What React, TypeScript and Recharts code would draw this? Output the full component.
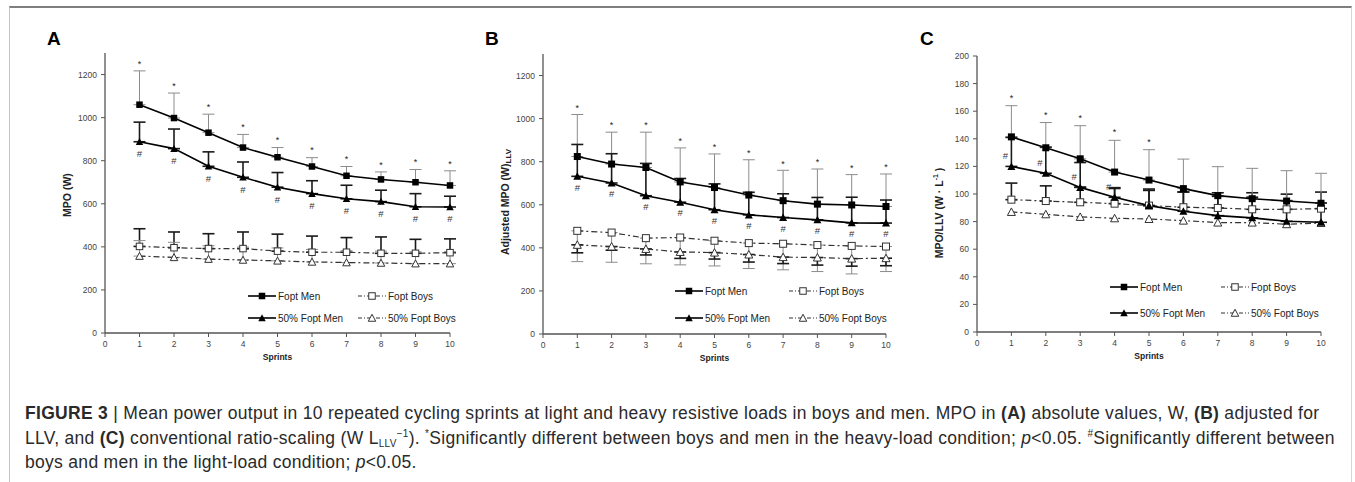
import React from "react";
import { ComposedChart, Line, XAxis, YAxis, ErrorBar, LabelList, Legend } from "recharts";

const FONT = "'Liberation Sans', Arial, Helvetica, sans-serif";

const SPRINTS = [1, 2, 3, 4, 5, 6, 7, 8, 9, 10];
const X_TICKS = [0, 1, 2, 3, 4, 5, 6, 7, 8, 9, 10];
const MPO_TICKS = [0, 200, 400, 600, 800, 1000, 1200];
const RATIO_TICKS = [0, 20, 40, 60, 80, 100, 120, 140, 160, 180, 200];

const NAMES = ["Fopt Men", "Fopt Boys", "50% Fopt Men", "50% Fopt Boys"];

// (A) absolute MPO, W
const A_FOPT_MEN = [1060, 998, 930, 861, 816, 773, 730, 713, 700, 685];
const A_FOPT_MEN_SD = [157, 116, 86, 61, 45, 41, 43, 35, 59, 68];
const A_HALF_MEN = [888, 856, 774, 723, 677, 647, 623, 610, 586, 585];
const A_HALF_MEN_SD = [91, 91, 67, 71, 68, 60, 63, 53, 61, 50];
const A_FOPT_BOYS = [402, 396, 392, 392, 380, 375, 375, 370, 370, 373];
const A_FOPT_BOYS_SD = [82, 73, 69, 77, 79, 75, 68, 76, 65, 64];
const A_HALF_BOYS = [357, 351, 343, 339, 335, 330, 327, 325, 322, 322];
const A_HALF_BOYS_SD = [72, 70, 62, 60, 60, 58, 55, 55, 55, 55];

// (B) adjusted MPO (W)LLV
const B_FOPT_MEN = [824, 789, 773, 706, 680, 645, 619, 603, 599, 592];
const B_FOPT_MEN_SD = [195, 148, 164, 158, 156, 164, 141, 163, 141, 151];
const B_HALF_MEN = [732, 701, 642, 612, 577, 553, 541, 530, 516, 515];
const B_HALF_MEN_SD = [148, 136, 150, 110, 120, 105, 110, 104, 119, 107];
const B_FOPT_BOYS = [479, 471, 445, 448, 433, 422, 419, 413, 409, 406];
const B_FOPT_BOYS_SD = [143, 138, 119, 127, 117, 118, 121, 123, 130, 116];
const B_HALF_BOYS = [414, 406, 395, 381, 378, 369, 357, 355, 350, 352];
const B_HALF_BOYS_SD = [37, 17, 28, 30, 30, 35, 30, 35, 35, 35];

// (C) MPO/LLV, W·L-1
const C_FOPT_MEN = [141.4, 133.5, 125.5, 115.9, 110.1, 103.9, 98.8, 96.6, 94.9, 93.3];
const C_FOPT_MEN_SD = [22.6, 18.3, 24, 23, 22, 21.4, 21, 22, 22, 21.7];
const C_HALF_MEN = [120, 115, 104.8, 97.6, 91.6, 87.5, 84.3, 82.7, 80.2, 79.5];
const C_HALF_MEN_SD = [21, 19, 18, 7, 12, 14, 14, 15, 15, 14];
const C_FOPT_BOYS = [95.9, 94.9, 94, 93, 91.6, 90.4, 89.9, 88.9, 88.9, 89.4];
const C_FOPT_BOYS_SD = [12, 11, 11, 11, 11, 11, 11, 12, 11, 12];
const C_HALF_BOYS = [87, 85.3, 83.4, 82.4, 81.9, 80.7, 79.3, 79.3, 78.1, 79];

// sprints flagged * (heavy load) and # (light load)
const A_STARS = [1, 2, 3, 4, 5, 6, 7, 8, 9, 10];
const A_HASHES = [1, 2, 3, 4, 5, 6, 7, 8, 9, 10];
const B_STARS = [1, 2, 3, 4, 5, 6, 7, 8, 9, 10];
const B_HASHES = [1, 2, 3, 4, 5, 6, 7, 8, 9, 10];
const C_STARS = [1, 2, 3, 4, 5];
const C_HASHES = [1, 2, 3, 4];

type Rows = Record<string, any>[];

function buildRows(p: {
    fm: number[]; fmSd: number[]; hm: number[]; hmSd: number[];
    fb: number[]; fbSd: number[]; hb: number[]; hbSd?: number[];
    boysDown: boolean; stars: number[]; hashes: number[]; starGap: number; hashGap: number;
}): Rows {
    return SPRINTS.map((s, i) => ({
        sprint: s,
        fm: p.fm[i], fmErr: [0, p.fmSd[i]],
        hm: p.hm[i], hmErr: [0, p.hmSd[i]],
        fb: p.fb[i], fbErr: p.boysDown ? [p.fbSd[i], 0] : [0, p.fbSd[i]],
        hb: p.hb[i], hbErr: p.hbSd ? (p.boysDown ? [p.hbSd[i], 0] : [0, p.hbSd[i]]) : [0, 0],
        star: p.stars.includes(s) ? p.fm[i] + p.fmSd[i] + p.starGap : null,
        hash: p.hashes.includes(s) ? p.hm[i] + p.hashGap : null,
    }));
}

const ROWS_A = buildRows({
    fm: A_FOPT_MEN, fmSd: A_FOPT_MEN_SD, hm: A_HALF_MEN, hmSd: A_HALF_MEN_SD,
    fb: A_FOPT_BOYS, fbSd: A_FOPT_BOYS_SD, hb: A_HALF_BOYS, hbSd: A_HALF_BOYS_SD,
    boysDown: false, stars: A_STARS, hashes: A_HASHES, starGap: 38, hashGap: -55,
});
const ROWS_B = buildRows({
    fm: B_FOPT_MEN, fmSd: B_FOPT_MEN_SD, hm: B_HALF_MEN, hmSd: B_HALF_MEN_SD,
    fb: B_FOPT_BOYS, fbSd: B_FOPT_BOYS_SD, hb: B_HALF_BOYS, hbSd: B_HALF_BOYS_SD,
    boysDown: true, stars: B_STARS, hashes: B_HASHES, starGap: 36, hashGap: -50,
});
const ROWS_C = buildRows({
    fm: C_FOPT_MEN, fmSd: C_FOPT_MEN_SD, hm: C_HALF_MEN, hmSd: C_HALF_MEN_SD,
    fb: C_FOPT_BOYS, fbSd: C_FOPT_BOYS_SD, hb: C_HALF_BOYS,
    boysDown: false, stars: C_STARS, hashes: C_HASHES, starGap: 6.5, hashGap: 8,
});

const GRAY_BAR = "#8c8c8c";
const BLACK_BAR = "#1a1a1a";

function markerShape(kind: string, size: number, cx: number, cy: number, key?: any) {
    const h = size / 2;
    if (kind === "fsq") return <rect key={key} x={cx - h} y={cy - h} width={size} height={size} fill="#000" />;
    if (kind === "osq") return <rect key={key} x={cx - h} y={cy - h} width={size} height={size} fill="#fff" stroke="#333" strokeWidth={1} />;
    const pts = `${cx},${cy - h - 0.5} ${cx - h - 0.5},${cy + h} ${cx + h + 0.5},${cy + h}`;
    if (kind === "ftri") return <polygon key={key} points={pts} fill="#000" />;
    return <polygon key={key} points={pts} fill="#fff" stroke="#333" strokeWidth={1} />;
}

const dotFn = (kind: string, size: number) => (props: any) => {
    const { cx, cy, index } = props;
    if (cx == null || cy == null || Number.isNaN(cy)) return <g key={index} />;
    return markerShape(kind, size, cx, cy, index);
};

const LEGEND_STYLE: Record<string, { col: number; row: number; kind: string; dashed: boolean }> = {
    "Fopt Men": { col: 0, row: 0, kind: "fsq", dashed: false },
    "Fopt Boys": { col: 1, row: 0, kind: "osq", dashed: true },
    "50% Fopt Men": { col: 0, row: 1, kind: "ftri", dashed: false },
    "50% Fopt Boys": { col: 1, row: 1, kind: "otri", dashed: true },
};

const makeLegend = (colGap: number, rowGap: number) => (props: any) => (
    <div style={{ position: "relative", fontFamily: FONT, fontSize: 10, color: "#222" }}>
        {(props.payload || []).map((item: any) => {
            const st = LEGEND_STYLE[item.value];
            if (!st) return null;
            return (
                <div key={item.value} style={{
                    position: "absolute", left: st.col * colGap, top: st.row * rowGap,
                    display: "flex", alignItems: "center", whiteSpace: "nowrap", height: 12,
                }}>
                    <svg width={28} height={10} style={{ marginRight: 2 }}>
                        <line x1={0} y1={5} x2={28} y2={5}
                            stroke={st.dashed ? "#333" : "#000"} strokeWidth={st.dashed ? 1.2 : 1.6}
                            strokeDasharray={st.dashed ? "4 2 1 2" : undefined} />
                        {markerShape(st.kind, 6.5, 14, 5)}
                    </svg>
                    <span>{item.value}</span>
                </div>
            );
        })}
    </div>
);

const starLabel = (props: any) => {
    const { x, y, value, index } = props;
    if (value == null || x == null || y == null) return null;
    return <text key={index} x={x} y={y + 4} textAnchor="middle" fontSize={9} fontFamily={FONT} style={{ fill: "#222" }}>*</text>;
};

const hashLabel = (dx: number) => (props: any) => {
    const { x, y, value, index } = props;
    if (value == null || x == null || y == null) return null;
    return <text key={index} x={x + dx} y={y + 3.5} textAnchor="middle" fontSize={9.5} fontFamily={FONT} style={{ fill: "#333" }}>#</text>;
};

interface PanelProps {
    rows: Rows;
    left: number; top: number; width: number; height: number;
    margin: { top: number; right: number; bottom: number; left: number };
    yMax: number; yTicks: number[];
    yLabel: React.ReactNode; yLabelX: number; yLabelY: number;
    legendLeft: number; legendTop: number; colGap: number; rowGap: number;
    markerSize: number; hashDx: number;
    fbBar: { stroke: string; w: number }; hbBar?: { stroke: string; w: number };
}

function Panel(p: PanelProps) {
    const tick = { fontSize: 8.5, fill: "#444", fontFamily: FONT };
    return (
        <div style={{ position: "absolute", left: p.left, top: p.top }}>
            <ComposedChart width={p.width} height={p.height} data={p.rows} margin={p.margin}>
                <XAxis type="number" dataKey="sprint" domain={[0, 10]} ticks={X_TICKS} interval={0}
                    height={30} tick={tick} tickSize={4} tickMargin={4}
                    axisLine={{ stroke: "#555", strokeWidth: 1.3 }} tickLine={{ stroke: "#555" }}
                    label={{
                        content: (lp: any) => {
                            const vb = lp.viewBox || {};
                            return (
                                <text x={vb.x + vb.width / 2} y={vb.y + 24} textAnchor="middle" dominantBaseline="central"
                                    fontSize={8.5} fontWeight={700} fontFamily={FONT} fill="#222">Sprints</text>
                            );
                        },
                    }} />
                <YAxis type="number" domain={[0, p.yMax]} ticks={p.yTicks} interval={0} width={65}
                    tick={tick} tickSize={4} tickMargin={4}
                    axisLine={{ stroke: "#555", strokeWidth: 1.3 }} tickLine={{ stroke: "#555" }}
                    label={{
                        content: () => (
                            <text transform={`translate(${p.yLabelX},${p.yLabelY}) rotate(-90)`} textAnchor="middle"
                                dominantBaseline="central" fontSize={10.5} fontWeight={700} fontFamily={FONT} fill="#222">
                                {p.yLabel}
                            </text>
                        ),
                    }} />
                <Legend layout="horizontal" verticalAlign="middle" align="center"
                    wrapperStyle={{ left: p.legendLeft, top: p.legendTop, width: 240, height: 50 }}
                    content={makeLegend(p.colGap, p.rowGap)} />

                <Line name={NAMES[1]} dataKey="fb" stroke="#333" strokeWidth={1.2} strokeDasharray="6 3 2 3"
                    dot={dotFn("osq", p.markerSize)} activeDot={false} isAnimationActive={false}>
                    <ErrorBar dataKey="fbErr" width={6} stroke={p.fbBar.stroke} strokeWidth={p.fbBar.w} direction="y" isAnimationActive={false} />
                </Line>
                <Line name={NAMES[3]} dataKey="hb" stroke="#333" strokeWidth={1.2} strokeDasharray="6 3 2 3"
                    dot={dotFn("otri", p.markerSize)} activeDot={false} isAnimationActive={false}>
                    {p.hbBar && <ErrorBar dataKey="hbErr" width={6} stroke={p.hbBar.stroke} strokeWidth={p.hbBar.w} direction="y" isAnimationActive={false} />}
                </Line>
                <Line name={NAMES[0]} dataKey="fm" stroke="#000" strokeWidth={1.6}
                    dot={dotFn("fsq", p.markerSize)} activeDot={false} isAnimationActive={false}>
                    <ErrorBar dataKey="fmErr" width={6} stroke={GRAY_BAR} strokeWidth={1} direction="y" isAnimationActive={false} />
                </Line>
                <Line name={NAMES[2]} dataKey="hm" stroke="#000" strokeWidth={1.6}
                    dot={dotFn("ftri", p.markerSize)} activeDot={false} isAnimationActive={false}>
                    <ErrorBar dataKey="hmErr" width={6} stroke={BLACK_BAR} strokeWidth={1.6} direction="y" isAnimationActive={false} />
                </Line>

                <Line dataKey="star" stroke="none" dot={false} activeDot={false} legendType="none" isAnimationActive={false}>
                    <LabelList dataKey="star" content={starLabel} />
                </Line>
                <Line dataKey="hash" stroke="none" dot={false} activeDot={false} legendType="none" isAnimationActive={false}>
                    <LabelList dataKey="hash" content={hashLabel(p.hashDx)} />
                </Line>
            </ComposedChart>
        </div>
    );
}

const letterStyle = (left: number): React.CSSProperties => ({
    position: "absolute", left, top: 29, fontFamily: FONT, fontWeight: 700, fontSize: 19, lineHeight: "19px", color: "#000",
});

const subStyle: React.CSSProperties = { fontSize: 10, lineHeight: 0, verticalAlign: "-3px" };
const supStyle: React.CSSProperties = { fontSize: 10, lineHeight: 0, verticalAlign: "7px" };

export default function App() {
    return (
        <div style={{ position: "absolute", left: 0, top: 0, width: 1355, height: 482, background: "#fff", overflow: "hidden" }}>
            <div style={{
                position: "absolute", left: 9, top: 6, width: 1341, height: 490,
                borderTop: "2px solid #7f7f7f", borderLeft: "1px solid #c4c4c4", borderRight: "1px solid #d6d6d6",
            }} />

            <div style={letterStyle(47)}>A</div>
            <div style={letterStyle(485)}>B</div>
            <div style={letterStyle(920)}>C</div>

            <Panel rows={ROWS_A} left={20} top={40} width={440} height={323}
                margin={{ top: 13, right: 10, bottom: 0, left: 20 }}
                yMax={1300} yTicks={MPO_TICKS}
                yLabel="MPO (W)" yLabelX={47} yLabelY={155}
                legendLeft={228} legendTop={250} colGap={110} rowGap={22}
                markerSize={6.5} hashDx={0}
                fbBar={{ stroke: BLACK_BAR, w: 1.6 }} hbBar={{ stroke: GRAY_BAR, w: 1 }} />

            <Panel rows={ROWS_B} left={460} top={40} width={440} height={324}
                margin={{ top: 14, right: 14, bottom: 0, left: 18 }}
                yMax={1300} yTicks={MPO_TICKS}
                yLabel={<>Adjusted MPO (W)<tspan fontSize={8} dy={3}>LLV</tspan></>} yLabelX={45} yLabelY={162}
                legendLeft={215} legendTop={245} colGap={114} rowGap={27}
                markerSize={7} hashDx={0}
                fbBar={{ stroke: GRAY_BAR, w: 1 }} hbBar={{ stroke: BLACK_BAR, w: 1.6 }} />

            <Panel rows={ROWS_C} left={900} top={40} width={440} height={322}
                margin={{ top: 16, right: 19, bottom: 0, left: 12 }}
                yMax={200} yTicks={RATIO_TICKS}
                yLabel={<>MPO/LLV (W · L<tspan fontSize={7} dy={-4}>-1</tspan><tspan dy={4}> )</tspan></>} yLabelX={39} yLabelY={173}
                legendLeft={210} legendTop={241} colGap={111} rowGap={26}
                markerSize={7} hashDx={-6}
                fbBar={{ stroke: BLACK_BAR, w: 1.6 }} />

            <div style={{
                position: "absolute", left: 25, top: 401, fontFamily: FONT, fontSize: 17.5, lineHeight: "24.5px",
                letterSpacing: "0.3px", color: "#2a2a2a", whiteSpace: "nowrap",
            }}>
                <b>FIGURE 3</b> | Mean power output in 10 repeated cycling sprints at light and heavy resistive loads in boys and men. MPO in <b>(A)</b> absolute values, W, <b>(B)</b> adjusted for<br />
                LLV, and <b>(C)</b> conventional ratio-scaling (W L<span style={subStyle}>LLV</span><span style={supStyle}>−1</span>). <span style={supStyle}>*</span>Significantly different between boys and men in the heavy-load condition; <i>p</i>&lt;0.05. <span style={supStyle}>#</span>Significantly different between<br />
                boys and men in the light-load condition; <i>p</i>&lt;0.05.
            </div>
        </div>
    );
}
